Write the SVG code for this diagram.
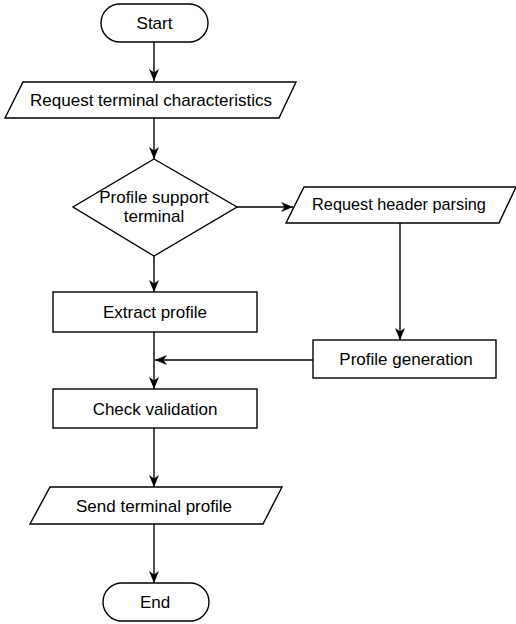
<svg xmlns="http://www.w3.org/2000/svg" width="516" height="624" viewBox="0 0 516 624">
<defs>
<style>
.s{fill:#fff;stroke:#000;stroke-width:1.4}
.t{font-family:"Liberation Sans",Arial,sans-serif;font-size:17px;fill:#000;text-anchor:middle}
.c{fill:none;stroke:#000;stroke-width:1.4}
</style>
<marker id="ah" viewBox="0 0 12 10" refX="12" refY="5" markerWidth="12" markerHeight="10" markerUnits="userSpaceOnUse" orient="auto">
<path d="M0,0 L12,5 L0,10 L3.5,5 Z" fill="#000"/>
</marker>
</defs>
<rect width="516" height="624" fill="#fff"/>
<g id="connectors">
<line class="c" x1="154" y1="42" x2="154" y2="81" marker-end="url(#ah)"/>
<line class="c" x1="154" y1="118" x2="154" y2="159" marker-end="url(#ah)"/>
<line class="c" x1="237" y1="207" x2="293" y2="207" marker-end="url(#ah)"/>
<line class="c" x1="154" y1="256" x2="154" y2="292" marker-end="url(#ah)"/>
<line class="c" x1="400" y1="223" x2="400" y2="340" marker-end="url(#ah)"/>
<line class="c" x1="313" y1="360" x2="155" y2="360" marker-end="url(#ah)"/>
<line class="c" x1="154" y1="332" x2="154" y2="389" marker-end="url(#ah)"/>
<line class="c" x1="154" y1="428" x2="154" y2="487" marker-end="url(#ah)"/>
<line class="c" x1="154" y1="524" x2="154" y2="583" marker-end="url(#ah)"/>
</g>
<g id="start">
<rect class="s" x="101" y="4" width="107" height="38" rx="19" ry="19"/>
<text class="t" x="154.5" y="29">Start</text>
</g>
<g id="request-terminal">
<polygon class="s" points="23,82 296,82 279,118 5,118"/>
<text class="t" x="151" y="106">Request terminal characteristics</text>
</g>
<g id="decision">
<polygon class="s" points="154,159 237,207 154,256 73,207"/>
<text class="t" x="154" y="203">Profile support</text>
<text class="t" x="154" y="222">terminal</text>
</g>
<g id="request-header">
<polygon class="s" points="304,187 516,187 499,223 286,223"/>
<text class="t" x="399" y="210" style="font-size:16.3px">Request header parsing</text>
</g>
<g id="extract">
<rect class="s" x="53" y="292" width="204" height="40"/>
<text class="t" x="155" y="318">Extract profile</text>
</g>
<g id="generation">
<rect class="s" x="313" y="340" width="183" height="38"/>
<text class="t" x="406" y="365">Profile generation</text>
</g>
<g id="check">
<rect class="s" x="53" y="389" width="204" height="39"/>
<text class="t" x="155" y="415">Check validation</text>
</g>
<g id="send">
<polygon class="s" points="50,487 282,487 263,524 30,524"/>
<text class="t" x="154" y="512">Send terminal profile</text>
</g>
<g id="end">
<rect class="s" x="103" y="583" width="106" height="38" rx="19" ry="19"/>
<text class="t" x="155" y="608">End</text>
</g>
</svg>
